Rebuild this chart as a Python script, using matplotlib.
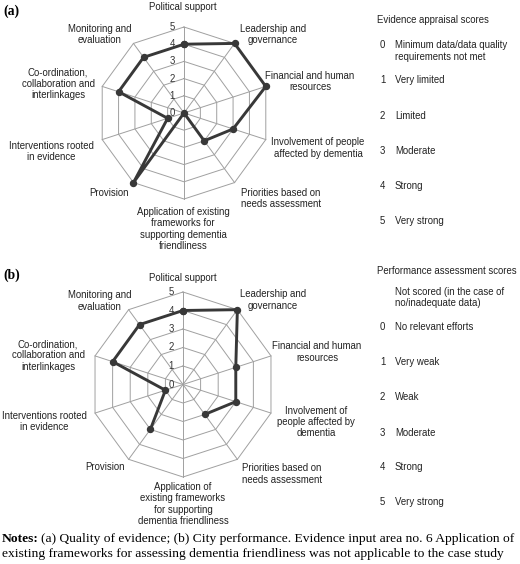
import numpy as np
import matplotlib
matplotlib.use('Agg')
import matplotlib.pyplot as plt

plt.rcParams['font.family'] = ['Liberation Sans', 'DejaVu Sans']

W, H = 520, 564

# ---- data ----
labels_a = ['Political support', 'Leadership and\ngovernance', 'Financial and human\nresources',
            'Involvement of people\naffected by dementia', 'Priorities based on\nneeds assessment',
            'Application of existing\nframeworks for\nsupporting dementia\nfriendliness',
            'Provision', 'Interventions rooted\nin evidence',
            'Co-ordination,\ncollaboration and\ninterlinkages', 'Monitoring and\nevaluation']
labels_b = ['Political support', 'Leadership and\ngovernance', 'Financial and human\nresources',
            'Involvement of\npeople affected by\ndementia', 'Priorities based on\nneeds assessment',
            'Application of\nexisting frameworks\nfor supporting\ndementia friendliness',
            'Provision', 'Interventions rooted\nin evidence',
            'Co-ordination,\ncollaboration and\ninterlinkages', 'Monitoring and\nevaluation']
evidence_scores = [4, 5, 5, 3, 2, 0, 5, 1, 4, 4]
performance_scores = [4, 5, 3, 3, 2, np.nan, 3, 1, 4, 4]  # application not scored
ticks = [0, 1, 2, 3, 4, 5]

legend_a_title = 'Evidence appraisal scores'
legend_a = [('0', 'Minimum data/data quality\nrequirements not met'), ('1', 'Very limited'),
            ('2', 'Limited'), ('3', 'Moderate'), ('4', 'Strong'), ('5', 'Very strong')]
legend_b_title = 'Performance assessment scores'
legend_b = [('', 'Not scored (in the case of\nno/inadequate data)'), ('0', 'No relevant efforts'),
            ('1', 'Very weak'), ('2', 'Weak'), ('3', 'Moderate'), ('4', 'Strong'), ('5', 'Very strong')]

# ---- layout (pixels from top-left) ----
pos_a = [(183, 7), (273, 34.5), (310, 81.5), (318, 148), (281, 198.5), (183, 229),
         (109, 193), (51, 151.5), (58, 84), (100, 34.5)]
pos_b = [(183, 278), (273, 300), (317, 352), (316, 422), (282, 474), (183, 504),
         (105, 467), (44, 421.5), (48, 355.5), (100, 301)]
leg_y_a = [51, 80, 116, 151, 186, 221]
leg_y_b = [297.5, 327, 362, 397, 433, 467, 502]

FS = 6.9
NOTE_FS = 9.7
GRID = '#a0a0a0'
LINE = '#383838'

fig = plt.figure(figsize=(W / 100, H / 100), dpi=100)


def fxy(x, y):
    return x / W, 1 - y / H


def radar(center, u, values, labels, label_pos):
    cx, cy = center
    L = 6
    ax = fig.add_axes([(cx - L * u) / W, (H - cy - L * u) / H, 2 * L * u / W, 2 * L * u / H])
    ax.set_xlim(-L, L)
    ax.set_ylim(-L, L)
    ax.axis('off')
    n = len(values)
    theta = np.deg2rad(90 - 360 / n * np.arange(n))
    ring = np.append(theta, theta[0])
    for r in ticks[1:]:
        ax.plot(r * np.cos(ring), r * np.sin(ring), color=GRID, lw=0.7, zorder=1)
    for t in theta:
        ax.plot([0, 5 * np.cos(t)], [0, 5 * np.sin(t)], color=GRID, lw=0.7, zorder=1)
    for r in ticks:
        ax.text(-12 / u, r, str(r), ha='center', va='center', fontsize=FS, color='#333333', zorder=2)
    v = np.append(values, values[0])
    ax.plot(v * np.cos(ring), v * np.sin(ring), color=LINE, lw=2.1, marker='o',
            markersize=4.3, zorder=3)
    for lab, (x, y) in zip(labels, label_pos):
        fig.text(*fxy(x, y), lab, ha='center', va='center', fontsize=FS, color='#222222',
                 linespacing=1.15)
    return ax


def legend(title, title_y, entries, ys):
    fig.text(*fxy(377, title_y), title, ha='left', va='center', fontsize=FS, color='#222222')
    for (num, txt), y in zip(entries, ys):
        nlines = txt.count('\n') + 1
        first = y - (nlines - 1) * 6
        if num:
            fig.text(*fxy(380, first), num, ha='left', va='center', fontsize=FS, color='#222222')
        fig.text(*fxy(395, y), txt, ha='left', va='center', fontsize=FS, color='#222222',
                 linespacing=1.15)


radar((184, 113), 17.2, evidence_scores, labels_a, pos_a)
radar((183, 384.5), 18.5, performance_scores, labels_b, pos_b)
legend(legend_a_title, 20, legend_a, leg_y_a)
legend(legend_b_title, 271, legend_b, leg_y_b)

fig.text(*fxy(3, 11), '(a)', fontsize=9.8, fontweight='bold', family='Liberation Serif',
         ha='left', va='center')
fig.text(*fxy(3, 275), '(b)', fontsize=9.8, fontweight='bold', family='Liberation Serif',
         ha='left', va='center')

# notes
t = fig.text(*fxy(2, 539), 'Notes:', fontsize=NOTE_FS, fontweight='bold', family='Liberation Serif',
             ha='left', va='center')
fig.canvas.draw()
bb = t.get_window_extent()
fig.text(bb.x1 / W + 2.5 / W, 1 - 539 / H,
         '(a) Quality of evidence; (b) City performance. Evidence input area no. 6 Application of',
         fontsize=NOTE_FS, family='Liberation Serif', ha='left', va='center')
fig.text(*fxy(2, 554),
         'existing frameworks for assessing dementia friendliness was not applicable to the case study',
         fontsize=NOTE_FS, family='Liberation Serif', ha='left', va='center')

fig.savefig('out.png', dpi=100)
